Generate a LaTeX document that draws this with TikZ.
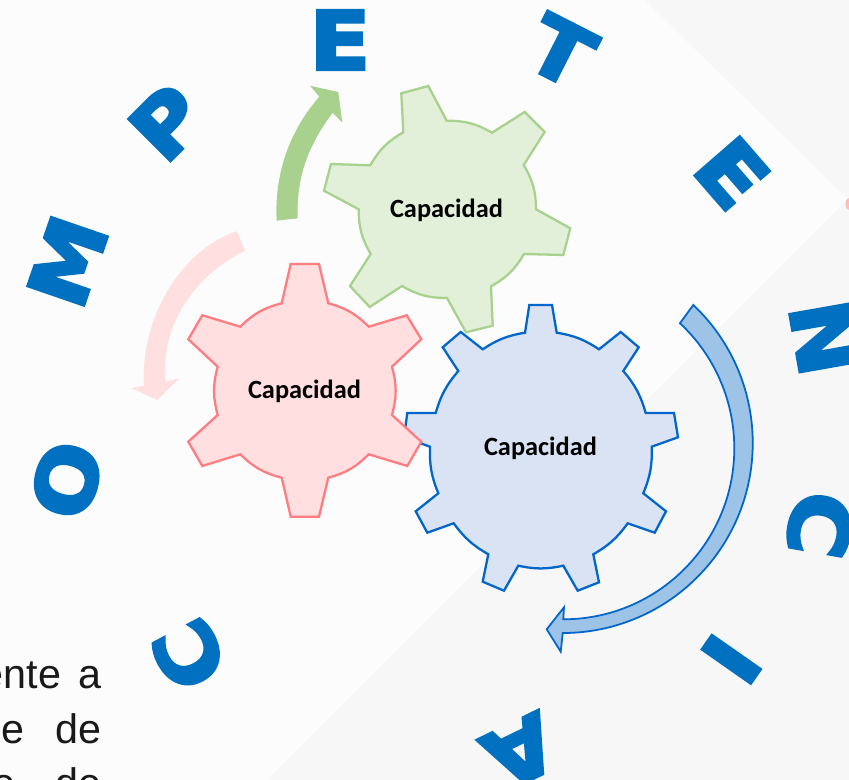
\documentclass[tikz,border=0pt]{standalone}
\usepackage{fontspec}
\setmainfont{Liberation Sans}
\newfontfamily\capfont{Carlito}
\newfontfamily\arcfont{DejaVu Sans}[FakeStretch=1.1, FakeBold=4]
\definecolor{arcBlue}{HTML}{0070C0}
\definecolor{gearGreen}{HTML}{E2F0D9}
\definecolor{lineGreen}{HTML}{A9D18E}
\definecolor{gearPink}{HTML}{FFDFDF}
\definecolor{linePink}{HTML}{FF7C80}
\definecolor{gearBlue}{HTML}{DAE3F3}
\definecolor{lineBlue}{HTML}{0066CC}
\definecolor{arrowBlue}{HTML}{9DC3E6}
\tikzset{
    arcLetter/.style={inner sep=0pt, text=arcBlue, font=\arcfont\bfseries\fontsize{46}{46}\selectfont},
    capLabel/.style={inner sep=0pt, font=\capfont\bfseries\fontsize{15}{18}\selectfont},
    bodyLine/.style={inner sep=0pt, anchor=base east, text=black!90, font=\fontsize{23.5}{28}\selectfont},
    gearLine/.style={line width=1.3pt, line join=miter},
    bendSix/.style={bend left=15},
    bendNine/.style={bend left=12},
}
\begin{document}
\begin{tikzpicture}[x=0.02cm, y=-0.02cm]
    \useasboundingbox (0,0) rectangle (849,780);
    \clip (0,0) rectangle (849,780);

    \fill[black!1] (0,0) rectangle (849,780);
    \fill[black!3] (645,0) -- (849,200) -- (849,0) -- cycle;
    \fill[black!3] (267,780) -- (849,198) -- (849,780) -- cycle;
    \fill[linePink!50] (849,204) ellipse (3.5 and 6);

    \draw[gearLine, draw=lineBlue, fill=gearBlue]
        (525,332.7) -- (529.3,305) -- (552,305) -- (556.7,332.7) to[bendNine]
        (599,349.3) -- (620.7,332) -- (638.7,347.3) -- (623.3,371) to[bendNine]
        (645.7,413) -- (674,413) -- (678,437.3) -- (651.7,446.7) to[bendNine]
        (643.3,493.3) -- (666,511.3) -- (654.7,532.7) -- (627.7,523.3) to[bendNine]
        (593.3,554.3) -- (599,582.3) -- (577.7,590.7) -- (563.3,565.7) to[bendNine]
        (518.3,565.7) -- (504,590.7) -- (482.7,581.7) -- (488.3,554.3) to[bendNine]
        (453.7,523.3) -- (427.3,532.7) -- (415.7,511.3) -- (438.3,493.3) to[bendNine]
        (430,446.7) -- (404,437.3) -- (407.3,413) -- (435.7,413) to[bendNine]
        (458.3,371) -- (442.7,347.3) -- (460.7,332) -- (482.7,349.3) to[bendNine] cycle;

    \draw[gearLine, draw=lineGreen, fill=gearGreen]
        (403.3,132.3) -- (401.3,93.3) -- (428.3,86) -- (446.7,120.7) to[bendSix]
        (492,132.7) -- (524.7,112) -- (544.7,132) -- (523.7,165) to[bendSix]
        (536,209.3) -- (570.3,228.3) -- (563.3,255) -- (524,254) to[bendSix]
        (491,286.3) -- (492.7,325.7) -- (466,332.3) -- (447,298) to[bendSix]
        (402,286) -- (369.7,307) -- (350,286) -- (370.7,254) to[bendSix]
        (358.7,209.3) -- (324,190.7) -- (331,164) -- (370.3,165.3) to[bendSix] cycle;

    \draw[gearLine, draw=linePink, fill=gearPink]
        (281.7,303.3) -- (290.7,264) -- (319,264) -- (328.3,303.3) to[bendSix]
        (368.7,326.7) -- (406.7,315.3) -- (421.3,339.3) -- (392,366.7) to[bendSix]
        (392,415) -- (421.3,441.7) -- (407.3,466) -- (368.7,454.3) to[bendSix]
        (328.3,477.7) -- (319,516.7) -- (290.7,516.7) -- (281.7,477.7) to[bendSix]
        (240.3,454.3) -- (202.3,466) -- (188.3,441.7) -- (217.7,415) to[bendSix]
        (217.7,366.7) -- (188.3,339.3) -- (202.3,315.3) -- (240.3,326.7) to[bendSix] cycle;

    \fill[lineGreen] (276.7,220.7) .. controls (274,170) and (292,128) .. (319.3,96.7)
        -- (310,85.7) -- (338.3,92) -- (342.3,122.7) -- (332.7,112.7)
        .. controls (310,143) and (296,175) .. (297.7,218.3) -- cycle;
    \fill[gearPink] (236.7,231.3) .. controls (180,250) and (140,320) .. (144,385.7)
        -- (131.7,388.3) -- (157.3,400) -- (179.3,378.3) -- (165.7,381.7)
        .. controls (160,325) and (195,275) .. (245,250.7) -- cycle;
    \draw[line width=1pt, draw=lineBlue, fill=arrowBlue] (693.3,305) arc (-46.6:90:190)
        -- (560.7,651.7) -- (546.7,629.3) -- (564,607.3) -- (563.3,619.3)
        arc (90:-47:171) -- cycle;

    \node[capLabel] (capGreen) at (446.5,210) {Capacidad};
    \node[capLabel] (capPink) at (304.5,391) {Capacidad};
    \node[capLabel] (capBlue) at (540.5,448) {Capacidad};

    \node[arcLetter, rotate=118] (letC) at (189,655) {C};
    \node[arcLetter, rotate=75] (letO) at (66.7,480) {O};
    \node[arcLetter, rotate=71] (letM) at (67.6,261.3) {M};
    \node[arcLetter, rotate=45] (letP) at (167,122.5) {P};
    \node[arcLetter] (letE) at (340,40) {E};
    \node[arcLetter, rotate=-27] (letT) at (561,51) {T};
    \node[arcLetter, rotate=-49] (letEE) at (732,173) {E};
    \node[arcLetter, rotate=-80] (letN) at (824,338) {N};
    \node[arcLetter, rotate=-100] (letCC) at (820,525) {C};
    \node[arcLetter, rotate=-125] (letI) at (731.3,659.3) {I};
    \node[arcLetter, rotate=-154] (letA) at (520.7,751.7) {A};

    \node[bodyLine] (bodyA) at (102,688) {ente\hspace{10pt}a};
    \node[bodyLine] (bodyB) at (102,743) {e\hspace{18pt}de};
    \node[bodyLine] (bodyC) at (102,797) {e\hspace{23pt}de};
\end{tikzpicture}
\end{document}
